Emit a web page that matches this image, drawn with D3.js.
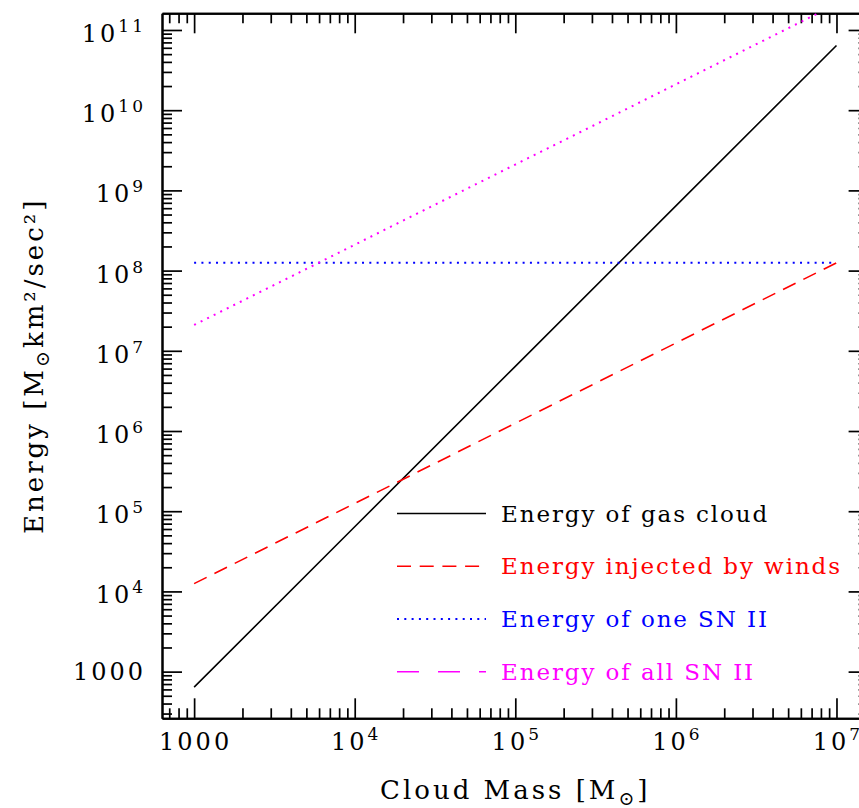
<!DOCTYPE html>
<html>
<head>
<meta charset="utf-8">
<script src="https://cdn.jsdelivr.net/npm/d3@7"></script>
<style>
  html, body { margin: 0; padding: 0; background: #fff; overflow: hidden; }
  text { font-family: "DejaVu Serif", "Liberation Serif", serif; }
</style>
</head>
<body>
<svg id="chart" width="859" height="808"></svg>
<script>
// Cloud mass (solar masses) at which each energy curve is sampled
const cloudMass = [1e3, 1e4, 1e5, 1e6, 1e7];
// Energies in M_sun km^2 / sec^2
const gasCloudEnergy = [640, 6.4e4, 6.4e6, 6.4e8, 6.4e10];
const windEnergy = [1.25e4, 1.25e5, 1.25e6, 1.25e7, 1.25e8];
const oneSNEnergy = [1.25e8, 1.25e8, 1.25e8, 1.25e8, 1.25e8];
const allSNEnergy = [2.1e7, 2.1e8, 2.1e9, 2.1e10, 2.1e11];

const seriesLabels = [
  "Energy of gas cloud",
  "Energy injected by winds",
  "Energy of one SN II",
  "Energy of all SN II"
];
const seriesColors = ["#000000", "#ff0000", "#0000ff", "#ff00ff"];

// Decade exponents carrying labelled major ticks
const massTickExponents = [3, 4, 5, 6, 7];
const energyTickExponents = [3, 4, 5, 6, 7, 8, 9, 10, 11];

const svg = d3.select("#chart");

const plot = { left: 162, right: 868.6, top: 13.3, bottom: 718.3 };

const x = d3.scaleLog()
  .domain([Math.pow(10, 2.8), Math.pow(10, 7.2)])
  .range([plot.left, plot.right]);
const y = d3.scaleLog()
  .domain([Math.pow(10, 2.418), Math.pow(10, 11.208)])
  .range([plot.bottom, plot.top]);

function minorValues(scale) {
  const [lo, hi] = scale.domain();
  const out = [];
  const e0 = Math.floor(Math.log10(lo)), e1 = Math.ceil(Math.log10(hi));
  for (let e = e0; e <= e1; e++) {
    for (let m = 2; m <= 9; m++) {
      const v = m * Math.pow(10, e);
      if (v > lo && v < hi) out.push(v);
    }
  }
  return out;
}

const xMajor = massTickExponents.map(e => Math.pow(10, e));
const yMajor = energyTickExponents.map(e => Math.pow(10, e));
const xMinor = minorValues(x);
const yMinor = minorValues(y);

const MAJOR = 20, MINOR = 10;

function drawAxis(gen, transform, values, size) {
  const g = svg.append("g")
    .attr("transform", transform)
    .call(gen.tickValues(values).tickSizeInner(size).tickSizeOuter(0).tickFormat(""));
  g.selectAll("path.domain").attr("stroke", "#000").attr("stroke-width", 2);
  g.selectAll(".tick line").attr("stroke", "#000").attr("stroke-width", 1.7);
  return g;
}

// Four sides of the frame, ticks pointing inward
[[MAJOR, xMajor], [MINOR, xMinor]].forEach(([s, v]) => {
  drawAxis(d3.axisBottom(x), `translate(0,${plot.bottom})`, v, -s);
  drawAxis(d3.axisTop(x), `translate(0,${plot.top})`, v, -s);
});
[[MAJOR, yMajor], [MINOR, yMinor]].forEach(([s, v]) => {
  drawAxis(d3.axisLeft(y), `translate(${plot.left},0)`, v, -s);
  drawAxis(d3.axisRight(y), `translate(${plot.right},0)`, v, -s);
});

// Tick labels: 1000 written out, higher decades as 10 with superscript
function powerLabel(sel, exp) {
  if (exp === 3) {
    sel.text("1000");
  } else {
    sel.append("tspan").text("10");
    sel.append("tspan").attr("dy", -10).attr("font-size", 17).text(String(exp));
  }
}

const tickFont = 24;
massTickExponents.forEach(e => {
  const t = svg.append("text")
    .attr("x", x(Math.pow(10, e)) + 1.5)
    .attr("y", 750)
    .attr("text-anchor", "middle")
    .attr("font-size", tickFont)
    .attr("letter-spacing", 3);
  powerLabel(t, e);
});
energyTickExponents.forEach(e => {
  const t = svg.append("text")
    .attr("x", 146)
    .attr("y", y(Math.pow(10, e)) + (e === 3 ? 8 : 12))
    .attr("text-anchor", "end")
    .attr("font-size", tickFont)
    .attr("letter-spacing", 3);
  powerLabel(t, e);
});

// Axis titles
const xt = svg.append("text")
  .attr("x", (plot.left + plot.right) / 2)
  .attr("y", 799)
  .attr("text-anchor", "middle")
  .attr("font-size", 26)
  .attr("letter-spacing", 3);
xt.append("tspan").text("Cloud Mass [M");
xt.append("tspan").attr("font-size", 19).attr("dy", 6).text("\u2299");
xt.append("tspan").attr("dy", -6).text("]");

const yt = svg.append("text")
  .attr("transform", `translate(43,${(plot.top + plot.bottom) / 2}) rotate(-90)`)
  .attr("text-anchor", "middle")
  .attr("font-size", 26)
  .attr("letter-spacing", 3);
yt.append("tspan").text("Energy [M");
yt.append("tspan").attr("font-size", 19).attr("dy", 6).text("\u2299");
yt.append("tspan").attr("dy", -6).text("km\u00b2/sec\u00b2]");

// Data curves, clipped to the frame
svg.append("clipPath").attr("id", "frame")
  .append("rect")
  .attr("x", plot.left).attr("y", plot.top)
  .attr("width", plot.right - plot.left).attr("height", plot.bottom - plot.top);

const seriesValues = [gasCloudEnergy, windEnergy, oneSNEnergy, allSNEnergy];
const curveDash = [null, "14,8.7", "2,5.3", "2,5.3"];
const legendDash = [null, "14,8.7", "2,5.3", "22,19"];
const curveWidth = [1.6, 1.6, 2, 2];

const line = d3.line().x(d => x(d[0])).y(d => y(d[1]));
const curves = svg.append("g").attr("clip-path", "url(#frame)");
seriesValues.forEach((vals, i) => {
  curves.append("path")
    .datum(cloudMass.map((m, k) => [m, vals[k]]))
    .attr("d", line)
    .attr("fill", "none")
    .attr("stroke", seriesColors[i])
    .attr("stroke-width", curveWidth[i])
    .attr("stroke-dasharray", curveDash[i]);
});

// Legend
const legendY = d3.scaleLinear().domain([0, 3]).range([513.5, 671.7]);
seriesLabels.forEach((label, i) => {
  const yy = legendY(i);
  svg.append("line")
    .attr("x1", 397).attr("x2", 486)
    .attr("y1", yy).attr("y2", yy)
    .attr("stroke", seriesColors[i])
    .attr("stroke-width", i === 2 ? 2 : 1.6)
    .attr("stroke-dasharray", legendDash[i]);
  svg.append("text")
    .attr("x", 501)
    .attr("y", yy + 8)
    .attr("font-size", 23)
    .attr("letter-spacing", 1.9)
    .attr("fill", seriesColors[i])
    .text(label);
});
</script>
</body>
</html>
